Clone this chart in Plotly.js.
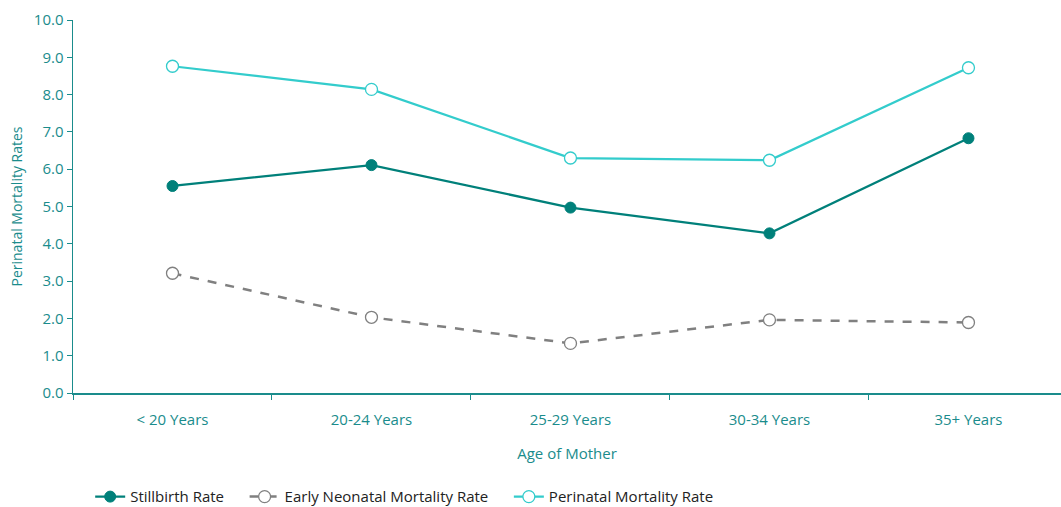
<!DOCTYPE html>
<html>
<head>
<meta charset="utf-8">
<script src="https://cdn.plot.ly/plotly-3.0.1.min.js"></script>
<style>html,body{margin:0;padding:0;background:#fff}#chart{width:1061px;height:507px}</style>
</head>
<body>
<div id="chart"></div>
<script>
const categories = ["< 20 Years", "20-24 Years", "25-29 Years", "30-34 Years", "35+ Years"];
const stillbirth = [5.55, 6.11, 4.97, 4.28, 6.83];
const earlyNeonatal = [3.21, 2.03, 1.33, 1.96, 1.89];
const perinatal = [8.76, 8.14, 6.30, 6.24, 8.72];
const yTicks = [0, 1, 2, 3, 4, 5, 6, 7, 8, 9, 10];
const seriesNames = ["Stillbirth Rate", "Early Neonatal Mortality Rate", "Perinatal Mortality Rate"];

const axisColor = "#1a8c8c";
const textColor = "#1a8c8c";
const pad = "\u00a0\u00a0\u00a0\u00a0";

const traces = [
  {name: seriesNames[0] + pad, x: categories, y: stillbirth, type: "scatter", mode: "lines+markers",
   line: {color: "#00807a", width: 2.25}, marker: {size: 11, color: "#00807a", line: {color: "#00807a", width: 1}}},
  {name: seriesNames[1] + pad, x: categories, y: earlyNeonatal, type: "scatter", mode: "lines+markers",
   line: {color: "#808080", width: 2.5, dash: "dash"}, marker: {size: 12, color: "#ffffff", line: {color: "#808080", width: 1.3}}},
  {name: seriesNames[2], x: categories, y: perinatal, type: "scatter", mode: "lines+markers",
   line: {color: "#33cccc", width: 2.25}, marker: {size: 12, color: "#ffffff", line: {color: "#33cccc", width: 1.3}}}
];

const layout = {
  width: 1061, height: 507,
  margin: {l: 73, r: 0, t: 20, b: 114, autoexpand: false},
  paper_bgcolor: "#ffffff", plot_bgcolor: "#ffffff",
  font: {family: "Open Sans, Noto Sans, sans-serif", color: textColor, size: 14},
  showlegend: true,
  legend: {orientation: "h", xref: "container", yref: "container", x: 0.085, xanchor: "left", y: 0.02, yanchor: "middle",
           font: {size: 15, color: "#222222"}, tracegroupgap: 0},
  xaxis: {
    type: "category", range: [-0.5, 4.465], tickson: "boundaries",
    showline: true, linecolor: axisColor, linewidth: 1.5,
    ticks: "outside", ticklen: 5, tickcolor: axisColor, tickwidth: 1,
    showgrid: false, zeroline: false, automargin: false,
    tickfont: {size: 15, color: textColor}, ticklabelstandoff: 12,
    title: {text: "Age of Mother", font: {size: 15, color: textColor}, standoff: 21}
  },
  yaxis: {
    range: [0, 10], tickvals: yTicks, ticktext: yTicks.map(v => v.toFixed(1)),
    showline: true, linecolor: axisColor, linewidth: 1.5,
    ticks: "outside", ticklen: 5, tickcolor: axisColor, tickwidth: 1,
    showgrid: false, zeroline: false, automargin: false,
    tickfont: {size: 15, color: textColor},
    title: {text: "Perinatal Mortality Rates", font: {size: 14, color: textColor}, standoff: 8}
  }
};

Plotly.newPlot("chart", traces, layout, {displayModeBar: false, staticPlot: true});
</script>
</body>
</html>
